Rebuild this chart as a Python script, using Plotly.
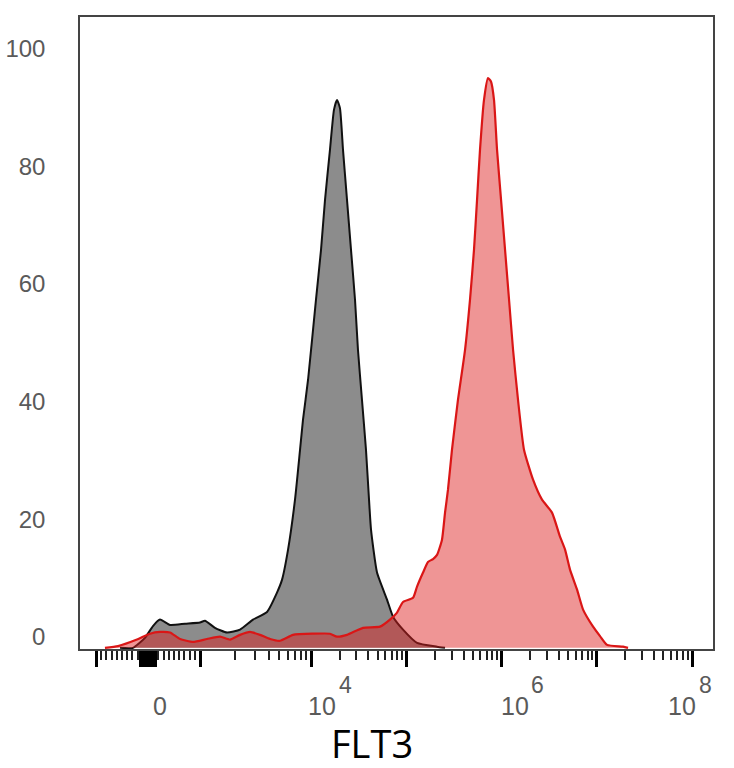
import numpy as np
import plotly.graph_objects as go

# ---------------- data (x in transformed FLT3 display units, y = % of max) ----------
iso_pos = [1.995, 2.131, 2.257, 2.341, 2.415, 2.520, 2.677, 2.835, 2.887, 2.992, 3.118,
           3.255, 3.391, 3.538, 3.643, 3.696, 3.759, 3.832, 3.885, 3.916, 3.969, 4.052,
           4.105, 4.147, 4.199, 4.241, 4.273, 4.304, 4.336, 4.378, 4.420, 4.462, 4.493,
           4.535, 4.577, 4.609, 4.630, 4.693, 4.798, 4.861, 4.966, 5.113, 5.323, 5.407]
iso_pct = [0.0, 0.0, 1.7, 3.7, 4.8, 3.9, 4.1, 4.3, 4.6, 3.4, 2.6,
           3.1, 4.8, 6.1, 9.4, 11.6, 16.7, 25.2, 33.7, 38.8, 45.6, 59.2,
           67.7, 76.2, 84.7, 91.5, 93.2, 91.8, 84.7, 76.2, 67.7, 59.2, 50.7,
           42.2, 33.7, 25.2, 20.1, 12.8, 8.2, 5.3, 3.1, 0.85, 0.2, 0.0]

flt3_pos = [1.837, 1.974, 2.173, 2.310, 2.415, 2.520, 2.625, 2.761, 2.908, 3.045, 3.150,
            3.255, 3.360, 3.465, 3.570, 3.675, 3.811, 4.021, 4.199, 4.273, 4.378, 4.546,
            4.724, 4.829, 4.903, 4.966, 5.071, 5.113, 5.176, 5.228, 5.281, 5.323, 5.375,
            5.407, 5.438, 5.480, 5.543, 5.617, 5.669, 5.711, 5.743, 5.774, 5.816, 5.858,
            5.890, 5.921, 5.953, 5.995, 6.037, 6.079, 6.121, 6.173, 6.236, 6.331, 6.425,
            6.530, 6.614, 6.667, 6.719, 6.793, 6.856, 6.961, 7.034, 7.108, 7.276, 7.328]
flt3_pct = [0.0, 0.3, 1.4, 2.4, 2.7, 2.6, 1.5, 1.0, 1.5, 1.9, 1.4,
            2.2, 2.7, 2.2, 1.5, 1.2, 2.2, 2.4, 2.4, 1.9, 2.2, 3.4,
            3.6, 4.8, 6.0, 7.8, 8.5, 10.4, 12.8, 14.6, 15.1, 15.8, 18.4,
            23.0, 26.9, 33.7, 42.2, 50.7, 59.2, 67.7, 76.2, 84.7, 93.2, 96.9,
            96.3, 93.2, 84.7, 76.2, 67.7, 59.2, 50.7, 42.2, 33.7, 28.6, 25.2,
            23.0, 18.9, 16.7, 13.3, 9.9, 6.5, 3.6, 2.0, 0.5, 0.2, 0.0]

y_ticks = [0, 20, 40, 60, 80, 100]
major_vals = [-1000, -150, -100, -50, 0, 50, 100, 150, 1000, 1e4, 1e5, 1e6, 1e7, 1e8]
label_vals = [0, 1e4, 1e6, 1e8]
label_base = ["0", "10", "10", "10"]
label_exp = ["", "4", "6", "8"]
label_shift = [12, 11, 13, -10]


# ---------------- biexponential-like display transform ---------------------------
D0, LIN = 2.289, 0.546


def _pos(a):
    if a <= 1000:
        return D0 + LIN * a / 1000.0
    d = 4 + np.log10(a / 1e4)
    if a < 1e4:
        d -= 0.165 * (np.sqrt(1e4 / a) - 1) / (np.sqrt(10) - 1)
    return d


def to_display(v):
    return float(_pos(v)) if v >= 0 else float(2 * D0 - _pos(-v))


minor_vals = [s * k * 100 for s in (-1, 1) for k in range(2, 10)]
for e in range(3, 8):
    minor_vals += [k * 10 ** e for k in range(2, 10)]

fig = go.Figure()
fig.add_trace(go.Scatter(x=iso_pos, y=iso_pct, mode="lines", fill="tozeroy",
                         line=dict(color="#111111", width=2, shape="spline", smoothing=0.5),
                         fillcolor="rgb(140,140,140)", showlegend=False, hoverinfo="skip"))
fig.add_trace(go.Scatter(x=flt3_pos, y=flt3_pct, mode="lines", fill="tozeroy",
                         line=dict(color="rgb(218,22,22)", width=2.2, shape="spline", smoothing=0.5),
                         fillcolor="rgba(220,30,30,0.47)", showlegend=False, hoverinfo="skip"))

fig.update_xaxes(range=[1.575, 8.22], showgrid=False, zeroline=False, automargin=False,
                 showline=True, mirror=True, linecolor="#444", linewidth=1.5,
                 tickmode="array", tickvals=[to_display(v) for v in major_vals],
                 ticks="outside", ticklen=16, tickwidth=3, tickcolor="black",
                 showticklabels=False,
                 minor=dict(tickmode="array", tickvals=[to_display(v) for v in minor_vals],
                            ticks="outside", ticklen=9, tickwidth=1.5, tickcolor="#222",
                            showgrid=False))
fig.update_yaxes(range=[-0.2, 107.3], showgrid=False, zeroline=False, automargin=False,
                 showline=True, mirror=True, linecolor="#444", linewidth=1.5,
                 tickmode="array", tickvals=y_ticks, ticks="",
                 tickfont=dict(family="Liberation Sans, Arial", size=24, color="#5a5a5a"),
                 ticklabelstandoff=28, ticklabelshift=-11)

for v, b, e, s in zip(label_vals, label_base, label_exp, label_shift):
    xv = to_display(v)
    fig.add_annotation(x=xv, xref="x", y=0, yref="paper", text=b, showarrow=False,
                       xanchor="center", yanchor="middle", xshift=s, yshift=-57,
                       font=dict(family="Liberation Sans, Arial", size=25, color="#5a5a5a"))
    if e:
        fig.add_annotation(x=xv, xref="x", y=0, yref="paper", text=e, showarrow=False,
                           xanchor="center", yanchor="middle", xshift=s + 23, yshift=-36,
                           font=dict(family="Liberation Sans, Arial", size=23, color="#5a5a5a"))

fig.add_annotation(x=(372 - 80) / 633, xref="paper", y=0, yref="paper", text="FLT3",
                   showarrow=False, xanchor="center", yanchor="middle", yshift=-94,
                   font=dict(family="Open Sans", size=38, color="black"))

fig.update_layout(width=734, height=768, margin=dict(l=80, r=21, t=17, b=119),
                  plot_bgcolor="white", paper_bgcolor="white")
fig.write_html("out.html")
